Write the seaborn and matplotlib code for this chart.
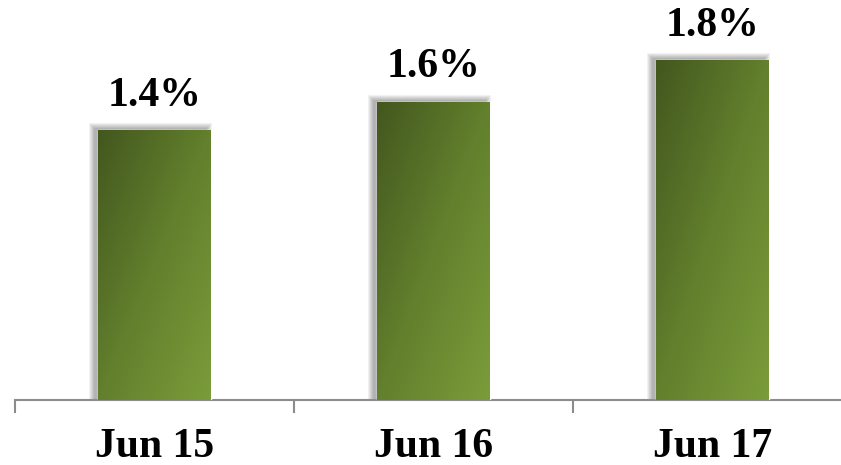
import matplotlib
matplotlib.use('Agg')
import numpy as np
import pandas as pd
import matplotlib.pyplot as plt
import seaborn as sns
from matplotlib.patches import Rectangle
from matplotlib.colors import LinearSegmentedColormap

# chart data (bar heights, labels as printed)
months = ["Jun 15", "Jun 16", "Jun 17"]
rates = [1.42, 1.57, 1.79]
labels = ["1.4%", "1.6%", "1.8%"]

df = pd.DataFrame({"month": months, "rate": rates})

sns.set_theme(style="white")
plt.rcParams['font.family'] = ['Liberation Serif', 'DejaVu Serif']

fig = plt.figure(figsize=(8.41, 4.65), dpi=100)
# axis runs past the right edge like the original slide
ax = fig.add_axes([15 / 841, 65 / 465, 837 / 841, 400 / 465])

sns.barplot(data=df, x="month", y="rate", color="#5f7a2c", width=0.405, ax=ax,
            saturation=1, zorder=3)

ax.set_xlim(-0.5, 2.5)
ax.set_ylim(0, 2.105)

# gradient fill (dark top-left -> light bottom-right) + soft shadow
grad = LinearSegmentedColormap.from_list("g", ["#43571e", "#62802d", "#7b9c3a"])
gx, gy = np.meshgrid(np.linspace(0, 1, 64), np.linspace(0, 1, 256))
gimg = gx * 0.5 + gy * 0.5
px_x = 3.0 / 837  # one pixel in data units
px_y = 2.105 / 400
for bar in ax.patches:
    x0, w, h = bar.get_x(), bar.get_width(), bar.get_height()
    # stacked translucent rectangles to fake a blur
    for k in range(0, 6):
        ax.add_patch(Rectangle((x0 - (4 + k) * px_x, 0), w + (2 * k) * px_x,
                               h + (2 + k) * px_y, facecolor="black",
                               alpha=0.055, lw=0, zorder=2))
    im = ax.imshow(gimg, cmap=grad, extent=(x0, x0 + w, 0, h), origin="upper",
                   aspect="auto", zorder=4, vmin=0, vmax=1)
    im.set_clip_path(bar)

ax.bar_label(ax.containers[0], labels=labels, padding=11, fontsize=30,
             fontweight="bold", color="black", zorder=5)

ax.set_xlabel("")
ax.set_ylabel("")
ax.set_yticks([])
for s in ["top", "right", "left"]:
    ax.spines[s].set_visible(False)
ax.spines["bottom"].set_color("#8c8c8c")
ax.spines["bottom"].set_linewidth(1.5)

ax.set_xticks(range(len(months)))
ax.set_xticklabels(months, fontsize=30, fontweight="bold", color="black")
ax.tick_params(axis="x", which="major", length=0, pad=20)
ax.set_xticks([-0.5, 0.5, 1.5, 2.5], minor=True)
ax.tick_params(axis="x", which="minor", length=9.5, width=1.5, color="#8c8c8c",
               direction="out", bottom=True)

fig.savefig("out.png", dpi=100)
